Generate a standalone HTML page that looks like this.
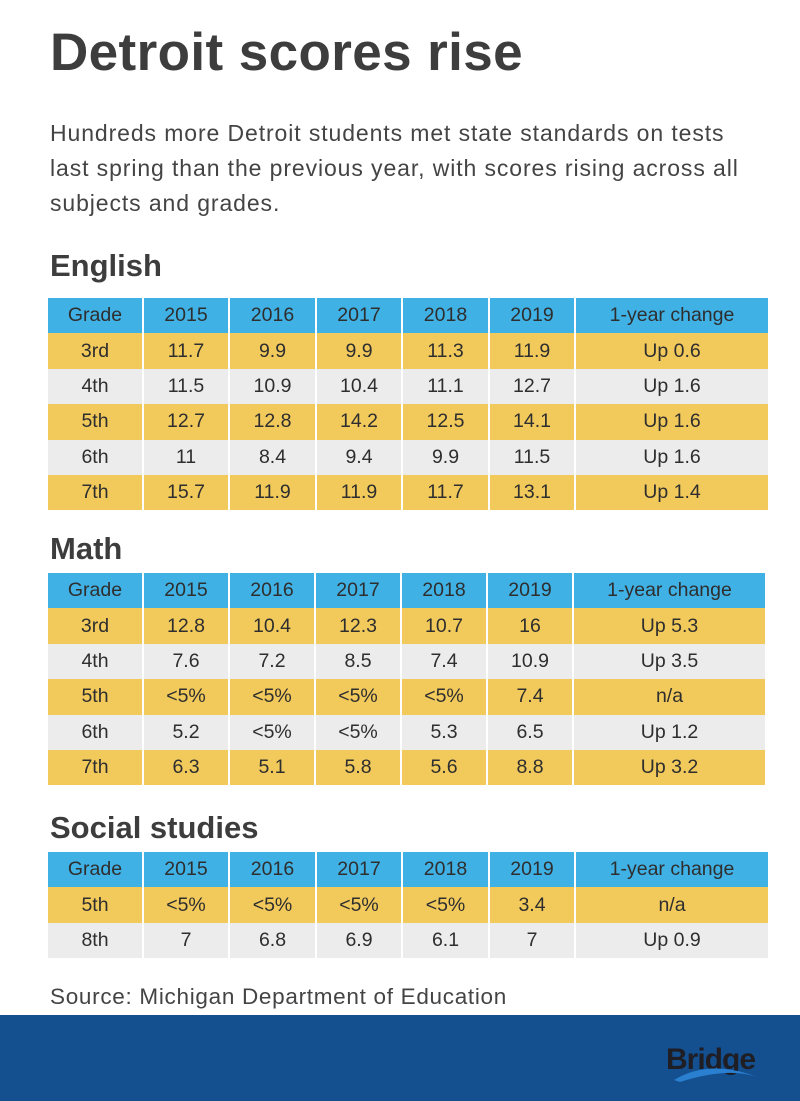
<!DOCTYPE html>
<html><head><meta charset="utf-8"><style>
body{margin:0;width:800px;height:1101px;background:#fff;position:relative;font-family:"Liberation Sans",sans-serif;color:#3a3a3a;overflow:hidden}
.a{position:absolute}
h1{position:absolute;left:50px;top:22px;margin:0;font-size:53px;font-weight:bold;color:#3d3d3d;letter-spacing:0.4px}
.p{left:50px;top:116px;font-size:23px;line-height:35px;color:#444;width:760px;white-space:nowrap;letter-spacing:0.9px}
h2{position:absolute;left:50px;margin:0;font-size:31px;font-weight:bold;color:#3d3d3d}
table{position:absolute;left:48px;border-collapse:collapse;font-size:19.5px;color:#2e2e2e}
td{text-align:center;border-right:2px solid #fff;padding:0;height:35.4px}
td:last-child{border-right:none}
tr.h td{background:#40b1e5}
tr.y td{background:#f2ca5c}
tr.g td{background:#ececec}
.src{left:50px;top:984px;font-size:22.5px;color:#444;letter-spacing:0.7px;white-space:nowrap}
.foot{left:0;top:1015px;width:800px;height:86px;background:#144f90}
.logo{left:666px;top:1043px;font-size:30px;font-weight:bold;color:#1e1e24;letter-spacing:-1px}
</style></head><body>
<h1>Detroit scores rise</h1>
<div class="a p">Hundreds more Detroit students met state standards on tests<br>last spring than the previous year, with scores rising across all<br>subjects and grades.</div>

<h2 style="top:248px">English</h2>
<table style="top:298px;width:720px">
<colgroup><col style="width:95px"><col style="width:86px"><col style="width:87px"><col style="width:86px"><col style="width:87px"><col style="width:86px"><col style="width:193px"></colgroup>
<tr class="h"><td>Grade</td><td>2015</td><td>2016</td><td>2017</td><td>2018</td><td>2019</td><td>1-year change</td></tr>
<tr class="y"><td>3rd</td><td>11.7</td><td>9.9</td><td>9.9</td><td>11.3</td><td>11.9</td><td>Up 0.6</td></tr>
<tr class="g"><td>4th</td><td>11.5</td><td>10.9</td><td>10.4</td><td>11.1</td><td>12.7</td><td>Up 1.6</td></tr>
<tr class="y"><td>5th</td><td>12.7</td><td>12.8</td><td>14.2</td><td>12.5</td><td>14.1</td><td>Up 1.6</td></tr>
<tr class="g"><td>6th</td><td>11</td><td>8.4</td><td>9.4</td><td>9.9</td><td>11.5</td><td>Up 1.6</td></tr>
<tr class="y"><td>7th</td><td>15.7</td><td>11.9</td><td>11.9</td><td>11.7</td><td>13.1</td><td>Up 1.4</td></tr>
</table>

<h2 style="top:531px">Math</h2>
<table style="top:573px;width:717px">
<colgroup><col style="width:95px"><col style="width:86px"><col style="width:86px"><col style="width:86px"><col style="width:86px"><col style="width:86px"><col style="width:192px"></colgroup>
<tr class="h"><td>Grade</td><td>2015</td><td>2016</td><td>2017</td><td>2018</td><td>2019</td><td>1-year change</td></tr>
<tr class="y"><td>3rd</td><td>12.8</td><td>10.4</td><td>12.3</td><td>10.7</td><td>16</td><td>Up 5.3</td></tr>
<tr class="g"><td>4th</td><td>7.6</td><td>7.2</td><td>8.5</td><td>7.4</td><td>10.9</td><td>Up 3.5</td></tr>
<tr class="y"><td>5th</td><td>&lt;5%</td><td>&lt;5%</td><td>&lt;5%</td><td>&lt;5%</td><td>7.4</td><td>n/a</td></tr>
<tr class="g"><td>6th</td><td>5.2</td><td>&lt;5%</td><td>&lt;5%</td><td>5.3</td><td>6.5</td><td>Up 1.2</td></tr>
<tr class="y"><td>7th</td><td>6.3</td><td>5.1</td><td>5.8</td><td>5.6</td><td>8.8</td><td>Up 3.2</td></tr>
</table>

<h2 style="top:810px">Social studies</h2>
<table style="top:852px;width:720px">
<colgroup><col style="width:95px"><col style="width:86px"><col style="width:87px"><col style="width:86px"><col style="width:87px"><col style="width:86px"><col style="width:193px"></colgroup>
<tr class="h"><td>Grade</td><td>2015</td><td>2016</td><td>2017</td><td>2018</td><td>2019</td><td>1-year change</td></tr>
<tr class="y"><td>5th</td><td>&lt;5%</td><td>&lt;5%</td><td>&lt;5%</td><td>&lt;5%</td><td>3.4</td><td>n/a</td></tr>
<tr class="g"><td>8th</td><td>7</td><td>6.8</td><td>6.9</td><td>6.1</td><td>7</td><td>Up 0.9</td></tr>
</table>

<div class="a src">Source: Michigan Department of Education</div>
<div class="a foot"></div>
<div class="a logo">Bridge</div>
<svg class="a" style="left:670px;top:1050px" width="110" height="40"><path d="M4 30 Q40 8 90 28 Q60 16 10 32Z" fill="#2a7fd0"/></svg>
</body></html>
